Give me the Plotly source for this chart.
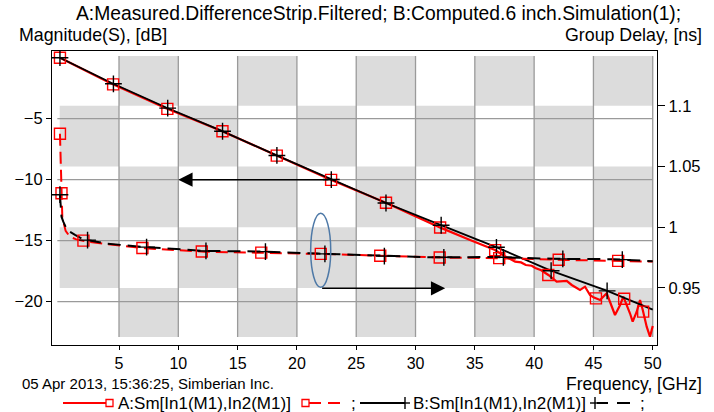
import plotly.graph_objects as go
import numpy as np

# ---------------- data ----------------
freq_mag_A = [0.02, 4.3, 8.96, 13.6, 18.2, 22.9, 27.5, 32.1, 34.6, 36.7, 37.5, 38.0, 38.4, 38.9,
              39.3, 39.8, 40.1, 40.6, 41.2, 41.9, 42.75, 43.17, 43.87, 44.29, 44.71, 45.0, 45.56,
              46.12, 46.54, 46.82, 47.25, 47.52, 48.08, 48.31, 48.65, 48.93, 49.16, 49.49, 49.77, 50.0]
mag_A = [0.0, -2.10, -4.15, -5.98, -7.98, -10.02, -11.89, -13.93, -14.94, -15.76, -16.25, -16.5, -16.72, -16.78,
         -16.99, -17.05, -17.24, -17.42, -17.81, -18.36, -18.30, -18.63, -19.04, -18.77, -19.45, -19.64, -19.86,
         -19.31, -20.41, -21.09, -20.27, -19.59, -20.95, -21.64, -20.82, -19.86, -20.68, -22.05, -22.87, -21.99]

freq_mag_B = [0.02, 4.33, 9.02, 13.66, 18.24, 22.93, 27.51, 32.2, 36.85, 41.4, 46.12, 50.0]
mag_B = [0.0, -2.05, -4.10, -6.00, -7.98, -10.00, -11.91, -13.75, -15.55, -17.45, -19.10, -20.65]

freq_gd_A = [0.02, 0.12, 0.17, 0.22, 0.5, 0.87, 1.4, 2.0, 2.3, 4.5, 7.2, 9.7, 12.2, 14.7, 17.2, 19.7,
             22.2, 24.8, 27.3, 29.8, 32.3, 34.8, 37.4, 40.0, 42.5, 45.0, 47.5, 50.0]
gd_A = [1.077, 1.040, 1.020, 1.008, 0.997, 0.992, 0.9900, 0.9890, 0.9881, 0.9855, 0.9827, 0.9812, 0.9799,
        0.9794, 0.9791, 0.9786, 0.9780, 0.9772, 0.9764, 0.9757, 0.9750, 0.9748, 0.9745, 0.9738, 0.9731,
        0.9728, 0.9722, 0.9717]

freq_gd_B = [0.02, 0.15, 0.3, 0.62, 1.29, 2.0, 4.0, 6.8, 12.2, 17.1, 21.8, 26.8, 31.6, 36.6, 41.7, 46.7, 50.0]
gd_B = [1.0268, 1.0087, 1.0046, 0.9978, 0.9937, 0.9900, 0.9865, 0.9840, 0.9805, 0.9800, 0.9783, 0.9764,
        0.9752, 0.9755, 0.9740, 0.9737, 0.9720]

x_ticks = [5, 10, 15, 20, 25, 30, 35, 40, 45, 50]
y_ticks = [-5, -10, -15, -20]
y2_ticks = [0.95, 1.0, 1.05, 1.1]
y2_tick_text = ["0.95", "1", "1.05", "1.1"]

title_text = "A:Measured.DifferenceStrip.Filtered; B:Computed.6 inch.Simulation(1);"
legend_A = "A:Sm[In1(M1),In2(M1)]"
legend_B = "B:Sm[In1(M1),In2(M1)]"

# ---------------- layout geometry ----------------
W, H = 714, 412
L, R, T, B = 52, 657, 51, 345
PW, PH = R - L, B - T
x_range = [-0.65, 50.36]
y_range = [-23.55, 0.55]
y2_range = [0.9030, 1.1452]
shade_y2 = [0.9096, 1.1411]

FONT = "Liberation Sans, Arial, sans-serif"
RED = "#ff0000"
BLK = "#000000"


def pxx(x):
    return (x - L) / PW


def pxy(y):
    return (B - y) / PH


def arc_markers(xs, ys, yr, spacing=59.5):
    xs = np.asarray(xs, float)
    ys = np.asarray(ys, float)
    sx = (xs - x_range[0]) / (x_range[1] - x_range[0]) * PW
    sy = (ys - yr[0]) / (yr[1] - yr[0]) * PH
    seg = np.hypot(np.diff(sx), np.diff(sy))
    cum = np.concatenate([[0], np.cumsum(seg)])
    targets = np.arange(0, cum[-1] + 1e-9, spacing)
    mx = np.interp(targets, cum, xs)
    my = np.interp(targets, cum, ys)
    return mx, my


fig = go.Figure()

# lines
fig.add_trace(go.Scatter(x=freq_mag_A, y=mag_A, mode="lines", line=dict(color=RED, width=2.2), showlegend=False))
fig.add_trace(go.Scatter(x=freq_mag_B, y=mag_B, mode="lines", line=dict(color=BLK, width=1.8), showlegend=False))
fig.add_trace(go.Scatter(x=freq_gd_A, y=gd_A, yaxis="y2", mode="lines",
                         line=dict(color=RED, width=2, dash="12px,6px"), showlegend=False))
fig.add_trace(go.Scatter(x=freq_gd_B, y=gd_B, yaxis="y2", mode="lines",
                         line=dict(color=BLK, width=2, dash="13px,7px"), showlegend=False))

# markers along arc length
for xs, ys, yr, ax, sym, col in [
    (freq_mag_A, mag_A, y_range, "y", "square-open", RED),
    (freq_gd_A, gd_A, y2_range, "y2", "square-open", RED),
    (freq_mag_B, mag_B, y_range, "y", "cross-thin-open", BLK),
    (freq_gd_B, gd_B, y2_range, "y2", "cross-thin-open", BLK),
]:
    mx, my = arc_markers(xs, ys, yr)
    size = 11 if sym == "square-open" else 12
    fig.add_trace(go.Scatter(x=mx, y=my, yaxis=ax, mode="markers",
                             marker=dict(symbol=sym, size=size, color=col, line=dict(color=col, width=1.4)),
                             showlegend=False))

shapes = []
# checkerboard background
col_edges = [0] + x_ticks
row_edges = [shade_y2[0]] + y2_ticks + [shade_y2[1]]
for i in range(len(col_edges) - 1):
    col_gray = (i % 2 == 1)
    for j in range(len(row_edges) - 1):
        row_gray = (j in (1, 3))
        if col_gray != row_gray:
            shapes.append(dict(type="rect", xref="x", yref="y2", x0=col_edges[i], x1=col_edges[i + 1],
                               y0=row_edges[j], y1=row_edges[j + 1], fillcolor="#dcdcdc",
                               line=dict(width=0), layer="below"))
# grid lines
for xv in x_ticks:
    shapes.append(dict(type="line", xref="x", yref="y2", x0=xv, x1=xv, y0=shade_y2[0], y1=shade_y2[1],
                       line=dict(color="#9a9a9a", width=1.3), layer="below"))
for yv in y_ticks:
    shapes.append(dict(type="line", xref="x", yref="y", x0=-0.2, x1=50, y0=yv, y1=yv,
                       line=dict(color="#9a9a9a", width=1.3), layer="below"))
# blue ellipse
shapes.append(dict(type="circle", xref="x", yref="y", x0=21.16, x1=22.85, y0=-18.82, y1=-12.75,
                   line=dict(color="#4e79a7", width=1.5)))

# legend graphics (pixel positions)
LY = 403
def hline(x0, x1, col, w=2):
    shapes.append(dict(type="line", xref="paper", yref="paper", x0=pxx(x0), x1=pxx(x1),
                       y0=pxy(LY), y1=pxy(LY), line=dict(color=col, width=w)))
def sq(xc, col):
    shapes.append(dict(type="rect", xref="paper", yref="paper", x0=pxx(xc - 3.5), x1=pxx(xc + 3.5),
                       y0=pxy(LY + 3.5), y1=pxy(LY - 3.5), line=dict(color=col, width=1.3)))
def plus(xc, col):
    shapes.append(dict(type="line", xref="paper", yref="paper", x0=pxx(xc - 5), x1=pxx(xc + 5),
                       y0=pxy(LY), y1=pxy(LY), line=dict(color=col, width=1.4)))
    shapes.append(dict(type="line", xref="paper", yref="paper", x0=pxx(xc), x1=pxx(xc),
                       y0=pxy(LY - 6), y1=pxy(LY + 6), line=dict(color=col, width=1.4)))

hline(63, 106, RED)
sq(109.5, RED)
sq(305.5, RED)
hline(309, 321, RED)
hline(328, 340, RED)
hline(360, 405, BLK)
plus(405, BLK)
plus(595, BLK)
hline(597, 608, BLK)
hline(617, 630, BLK)

annotations = []
def text(s, x, y, xa, size, col="black"):
    annotations.append(dict(text=s, x=pxx(x), y=pxy(y), xref="paper", yref="paper", xanchor=xa,
                            yanchor="middle", showarrow=False, font=dict(family=FONT, size=size, color=col)))

text(title_text, 378, 13, "center", 19.3)
text("Magnitude(S), [dB]", 17, 35, "left", 17.8)
text("Group Delay, [ns]", 704, 35, "right", 17.8)
text("Frequency, [GHz]", 704, 384, "right", 17.5)
text("05 Apr 2013, 15:36:25, Simberian Inc.", 20, 383, "left", 15)
text(legend_A, 116, LY, "left", 17)
text(";", 349, LY, "left", 17)
text(legend_B, 411, LY, "left", 17)
text(";", 638, LY, "left", 17)

# arrows
annotations.append(dict(x=10.0, y=-10.0, ax=22.8, ay=-10.0, xref="x", yref="y", axref="x", ayref="y",
                        text="", showarrow=True, arrowhead=2, arrowsize=1.9, arrowwidth=1.5, arrowcolor=BLK))
annotations.append(dict(x=32.5, y=-18.9, ax=22.0, ay=-18.9, xref="x", yref="y", axref="x", ayref="y",
                        text="", showarrow=True, arrowhead=2, arrowsize=1.9, arrowwidth=1.5, arrowcolor=BLK))

fig.update_layout(
    width=W, height=H,
    margin=dict(l=L, r=W - R, t=T, b=H - B, pad=0),
    paper_bgcolor="white", plot_bgcolor="white",
    showlegend=False,
    font=dict(family=FONT, size=16, color="black"),
    xaxis=dict(range=x_range, tickvals=x_ticks, ticks="outside", ticklen=4, tickcolor="black",
               showline=True, linecolor="black", linewidth=1.2, mirror=True, showgrid=False,
               zeroline=False, tickfont=dict(size=16)),
    yaxis=dict(range=y_range, tickvals=y_ticks, ticks="outside", ticklen=5, tickcolor="black",
               showline=True, linecolor="black", linewidth=1.2, showgrid=False, zeroline=False,
               tickfont=dict(size=16.5)),
    yaxis2=dict(range=y2_range, tickvals=y2_ticks, ticktext=y2_tick_text, overlaying="y", side="right",
                ticks="outside", ticklen=7, tickcolor="black", showline=True, linecolor="black",
                linewidth=1.2, showgrid=False, zeroline=False, tickfont=dict(size=16.5)),
    shapes=shapes,
    annotations=annotations,
)

fig.write_html("out.html")
